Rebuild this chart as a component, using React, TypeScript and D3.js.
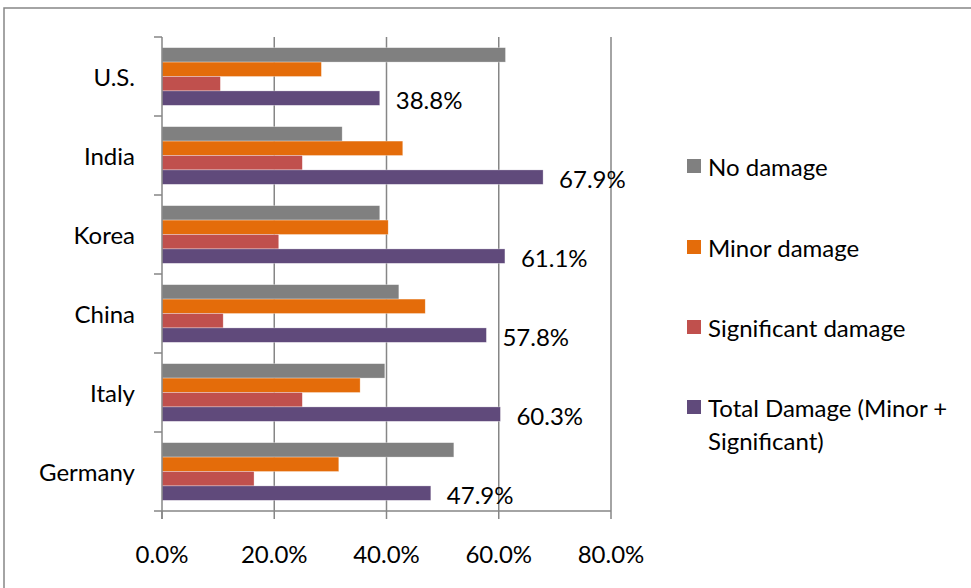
import * as d3 from "d3";

const countries = ["U.S.", "India", "Korea", "China", "Italy", "Germany"];
const seriesNames = [
  "No damage",
  "Minor damage",
  "Significant damage",
  "Total Damage (Minor + Significant)",
];
const noDamage = [61.2, 32.1, 38.8, 42.2, 39.7, 52.0];
const minorDamage = [28.4, 42.9, 40.3, 46.9, 35.3, 31.5];
const significantDamage = [10.4, 25.0, 20.8, 10.9, 25.0, 16.4];
const totalDamage = [38.8, 67.9, 61.1, 57.8, 60.3, 47.9];
const xTicks = [0, 20, 40, 60, 80];

const colors = ["#808080", "#E46C0A", "#C0504D", "#604A7B"];
const FONT = "Lato, 'Open Sans', sans-serif";
const FS = 24;
const AXIS = "#868686";

const WIDTH = 971;
const HEIGHT = 588;
const PLOT = { left: 162, right: 611, top: 37, bottom: 511 };

export default function App() {
  const values = [noDamage, minorDamage, significantDamage, totalDamage];

  const xScale = d3.scaleLinear().domain([0, 80]).range([PLOT.left, PLOT.right]);
  const yScale = d3
    .scaleBand<string>()
    .domain(countries)
    .range([PLOT.top, PLOT.bottom])
    .padding(0);
  const inner = d3
    .scaleBand<string>()
    .domain(seriesNames)
    .range([0, yScale.bandwidth()])
    .paddingInner(0)
    .paddingOuter(0.74);

  const boundaries = [...countries.map((c) => yScale(c)!), PLOT.bottom];
  const fmt = d3.format(".1f");

  const legendY = [166, 247, 327, 407];

  return (
    <svg
      width={WIDTH}
      height={HEIGHT}
      style={{ position: "absolute", left: 0, top: 0, background: "#fff" }}
      fontFamily={FONT}
    >
      {/* outer chart border */}
      <rect x={4} y={8} width={WIDTH + 10} height={HEIGHT + 10} fill="#fff" stroke={AXIS} strokeWidth={1.5} />

      {/* gridlines */}
      {xTicks.slice(1).map((t) => (
        <line key={t} x1={xScale(t)} x2={xScale(t)} y1={PLOT.top} y2={PLOT.bottom} stroke={AXIS} strokeWidth={1.5} />
      ))}

      {/* bars */}
      {countries.map((c, i) => (
        <g key={c} transform={`translate(0,${yScale(c)})`}>
          {seriesNames.map((s, j) => (
            <rect
              key={s}
              x={xScale(0)}
              y={inner(s)}
              width={xScale(values[j][i]) - xScale(0)}
              height={inner.bandwidth()}
              fill={colors[j]}
              stroke="#fff"
              strokeOpacity={0.5}
              strokeWidth={0.6}
            />
          ))}
          <text
            x={xScale(totalDamage[i]) + 16}
            y={inner(seriesNames[3])! + inner.bandwidth() / 2 + 1}
            dominantBaseline="central"
            fontSize={FS}
            fill="#000"
          >
            {fmt(totalDamage[i])}%
          </text>
          <text
            x={135}
            y={yScale.bandwidth() / 2}
            dominantBaseline="central"
            textAnchor="end"
            fontSize={FS}
            fill="#000"
          >
            {c}
          </text>
        </g>
      ))}

      {/* axes */}
      <line x1={PLOT.left} x2={PLOT.left} y1={PLOT.top} y2={PLOT.bottom + 8} stroke={AXIS} strokeWidth={1.5} />
      <line x1={PLOT.left} x2={PLOT.right} y1={PLOT.bottom} y2={PLOT.bottom} stroke={AXIS} strokeWidth={1.5} />
      {boundaries.map((b, i) => (
        <line key={i} x1={PLOT.left - 8} x2={PLOT.left} y1={b} y2={b} stroke={AXIS} strokeWidth={1.5} />
      ))}
      {xTicks.map((t) => (
        <g key={t}>
          <line x1={xScale(t)} x2={xScale(t)} y1={PLOT.bottom} y2={PLOT.bottom + 8} stroke={AXIS} strokeWidth={1.5} />
          <text x={xScale(t)} y={553} textAnchor="middle" dominantBaseline="central" fontSize={FS} fill="#000">
            {fmt(t)}%
          </text>
        </g>
      ))}

      {/* legend */}
      {seriesNames.map((s, j) => (
        <g key={s}>
          <rect x={687} y={legendY[j] - 7} width={14} height={14} fill={colors[j]} />
          {j < 3 ? (
            <text x={708} y={legendY[j]} dominantBaseline="central" fontSize={FS} fill="#000">
              {s}
            </text>
          ) : (
            <text x={708} y={legendY[j]} dominantBaseline="central" fontSize={FS} fill="#000">
              <tspan x={708}>Total Damage (Minor +</tspan>
              <tspan x={708} dy={33}>Significant)</tspan>
            </text>
          )}
        </g>
      ))}
    </svg>
  );
}
